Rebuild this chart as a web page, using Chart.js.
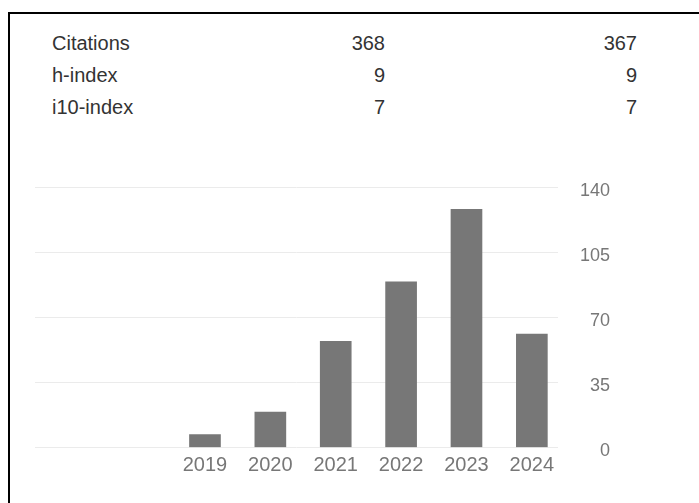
<!DOCTYPE html>
<html>
<head>
<meta charset="utf-8">
<script src="https://cdn.jsdelivr.net/npm/chart.js@4/dist/chart.umd.min.js"></script>
<style>
  html, body { margin: 0; padding: 0; background: #fff; }
  #page { position: relative; width: 699px; height: 503px; overflow: hidden; background: #fff;
          font-family: "Liberation Sans", Arial, sans-serif; }
  #frame { position: absolute; left: 8px; top: 12px; width: 720px; height: 520px;
           border: 2px solid #000; box-sizing: border-box; }
  .cell { position: absolute; font-size: 20px; color: #333; line-height: 24px; white-space: nowrap; }
  .lab { left: 52px; }
  .v1 { right: calc(699px - 385px); text-align: right; }
  .v2 { right: calc(699px - 637px); text-align: right; }
  #wrap { position: absolute; left: 0; top: 0; width: 699px; height: 503px; }
</style>
</head>
<body>
<div id="page">
  <div id="frame"></div>
  <div id="stats"></div>
  <div id="wrap"><canvas id="c" width="699" height="503"></canvas></div>
</div>
<script>
// ---- data ----
const statLabels = ["Citations", "h-index", "i10-index"];
const statAll    = [368, 9, 7];
const statSince  = [367, 9, 7];

const years     = [2019, 2020, 2021, 2022, 2023, 2024];
const citations = [7, 19, 57, 89, 128, 61];
const yTicks    = [0, 35, 70, 105, 140];

// ---- stats table (text) ----
const stats = document.getElementById('stats');
const rowTops = [31, 63, 95];
statLabels.forEach((lab, i) => {
  const a = document.createElement('div'); a.className = 'cell lab'; a.style.top = rowTops[i] + 'px'; a.textContent = lab;
  const b = document.createElement('div'); b.className = 'cell v1';  b.style.top = rowTops[i] + 'px'; b.textContent = statAll[i];
  const c = document.createElement('div'); c.className = 'cell v2';  c.style.top = rowTops[i] + 'px'; c.textContent = statSince[i];
  stats.appendChild(a); stats.appendChild(b); stats.appendChild(c);
});

// ---- chart ----
const FONT = '"Liberation Sans", Arial, sans-serif';
new Chart(document.getElementById('c'), {
  type: 'bar',
  data: {
    datasets: [{
      data: years.map((y, i) => ({ x: y, y: citations[i] })),
      backgroundColor: '#777777',
      borderWidth: 0,
      barThickness: 31
    }]
  },
  options: {
    responsive: false,
    animation: false,
    events: [],
    layout: { padding: { left: 35, top: 187, right: 89, bottom: 0 } },
    plugins: { legend: { display: false }, tooltip: { enabled: false } },
    scales: {
      x: {
        type: 'linear',
        offset: false,
        min: 2016.4,
        max: 2024.4,
        grid: { display: false, drawTicks: false },
        border: { display: false },
        afterBuildTicks: s => { s.ticks = years.map(v => ({ value: v })); },
        afterFit: s => { s.height = 503 - 447.5; s.paddingLeft = 0; s.paddingRight = 0; },
        ticks: {
          autoSkip: false,
          maxRotation: 0,
          padding: 6,
          color: '#777',
          font: { family: FONT, size: 20 },
          callback: v => String(v)
        }
      },
      y: {
        position: 'right',
        min: 0,
        max: 140,
        grid: { color: '#ebebeb', lineWidth: 1, drawTicks: false },
        border: { display: false },
        afterBuildTicks: s => { s.ticks = yTicks.map(v => ({ value: v })); },
        afterFit: s => { s.width = 52; s.paddingTop = 0; s.paddingBottom = 0; },
        ticks: {
          crossAlign: 'far',
          padding: 15,
          labelOffset: 4,
          color: '#777',
          font: { family: FONT, size: 18 }
        }
      }
    }
  }
});
</script>
</body>
</html>
